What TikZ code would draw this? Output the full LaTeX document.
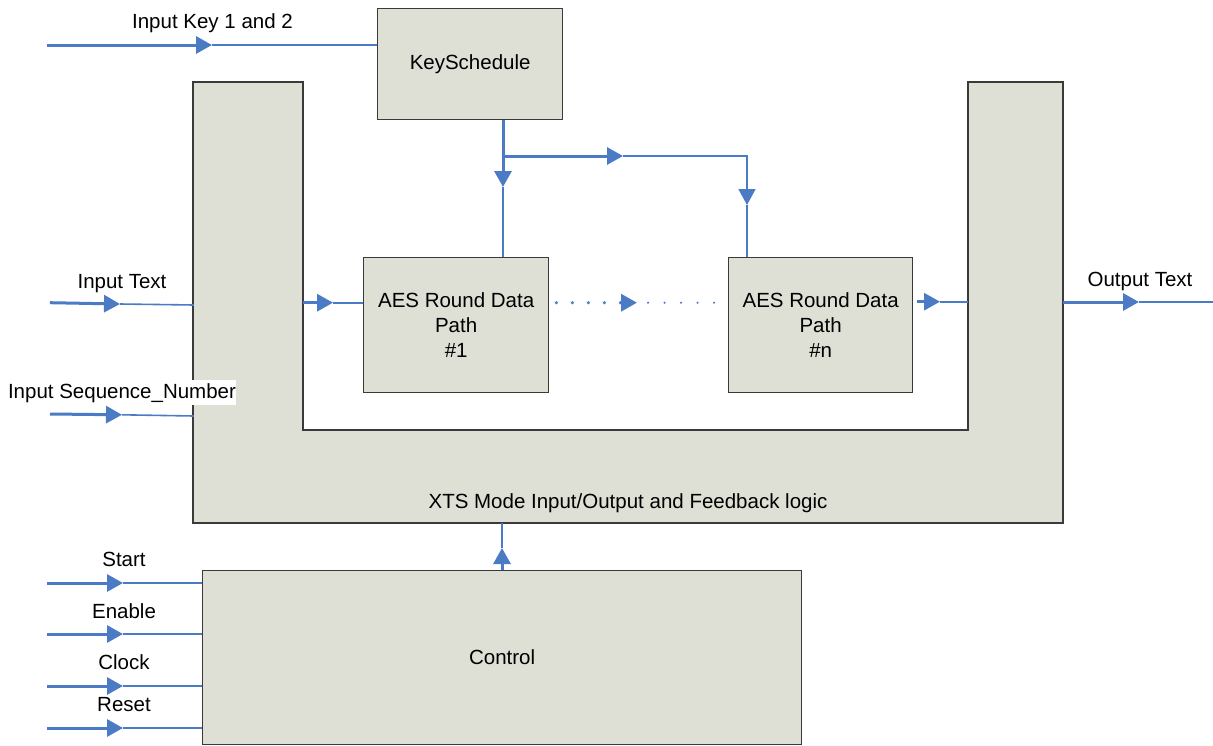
\documentclass[tikz,border=0pt]{standalone}
\usepackage{fontspec}
\setmainfont{Liberation Sans}
\usetikzlibrary{arrows.meta,calc}
\definecolor{wire}{HTML}{4A7BC4}
\definecolor{blockfill}{HTML}{DEDFD5}
\definecolor{blockline}{HTML}{3A3A3A}

\begin{document}
\begin{tikzpicture}[x=1pt,y=-1pt,
  every node/.style={font=\fontsize{20.5}{25}\selectfont, text=black},
  block/.style={draw=blockline, line width=1.3pt, fill=blockfill, inner sep=0pt,
                anchor=north west, align=center},
  wthick/.style={draw=wire, line width=3pt},
  wthin/.style={draw=wire, line width=1.6pt},
  tip/.style={-{Triangle[length=16pt,width=17pt]}},
  lbl/.style={anchor=base, inner sep=1pt}]

\useasboundingbox (0,0) rectangle (1213,745);

% XTS input/output and feedback logic (U-shaped block)
\draw[draw=blockline, line width=1.3pt, fill=blockfill]
  (193,82) -- (303,82) -- (303,430) -- (968,430) -- (968,82)
  -- (1063,82) -- (1063,523) -- (193,523) -- cycle;
\node[lbl] (xts) at (628,508) {XTS Mode Input/Output and Feedback logic};

% blocks
\node[block, minimum width=185pt, minimum height=111pt] (ks) at (377,8) {KeySchedule};
\node[block, minimum width=185pt, minimum height=135pt] (aes1) at (363,257)
  {AES Round Data\\Path\\\#1};
\node[block, minimum width=184pt, minimum height=135pt] (aesn) at (728,257)
  {AES Round Data\\Path\\\#n};
\node[block, minimum width=599pt, minimum height=174pt] (ctl) at (202,570) {Control};

% points on the U-shaped block
\coordinate (uinl) at (303,302.7);
\coordinate (uinr) at (968,301.7);
\coordinate (uoutr) at (1063,302);
\coordinate (utext) at (194,305);
\coordinate (useq) at (194,416);
\coordinate (ubot) at (502,523);

% key input
\coordinate (kin) at (47,45);
\coordinate (ktip) at (212,45);
\draw[wthick, tip] (kin) -- (ktip);
\draw[wthin] (ktip) -- (ks.west |- ktip);
\node[lbl] (lkey) at (212.5,28) {Input Key 1 and 2};

% key schedule distribution
\coordinate (kout) at (ks.south -| 503,0);
\coordinate (ksplit) at (503,156);
\coordinate (ktip1) at (503,187);
\coordinate (btip) at (623,156);
\coordinate (bcorner) at (747,156);
\coordinate (ntip) at (747,205);
\draw[wthick] (kout) -- (ksplit);
\draw[wthick, tip] (ksplit) -- (ktip1);
\draw[wthin] (ktip1) -- (aes1.north -| ktip1);
\draw[wthick, tip] (ksplit) -- (btip);
\draw[wthin, tip] (btip) -- (bcorner) -- (ntip);
\draw[wthin] (ntip) -- (aesn.north -| ntip);

% data path
\coordinate (a1tip) at (333,302.7);
\draw[wthick, tip] (uinl) -- (a1tip);
\draw[wthin] (a1tip) -- (aes1.west |- a1tip);

\coordinate (dtip) at (637,302.7);
\draw[wire, line width=3.5pt, line cap=round, dash pattern=on 0pt off 16pt,
      dash phase=9pt, tip] (aes1.east |- dtip) -- (dtip);
\draw[wire, line width=2.4pt, line cap=round, dash pattern=on 0pt off 16.5pt,
      dash phase=5.5pt] (dtip) -- (aesn.west |- dtip);

\coordinate (antip) at (940,301.7);
\draw[wthick, tip] ($(aesn.east |- antip)+(4,0)$) -- (antip);
\draw[wthin] (antip) -- (uinr);

% output
\coordinate (otip) at (1139,302);
\coordinate (oend) at (1213,302);
\draw[wthick, tip] (uoutr) -- (otip);
\draw[wthin] (otip) -- (oend);
\node[lbl] (lout) at (1140,286) {Output Text};

% text input
\coordinate (tin) at (50,302.7);
\coordinate (ttip) at (120,304);
\draw[wthick, tip] (tin) -- (ttip);
\draw[wthin] (ttip) -- (utext);
\node[lbl] (ltext) at (122,288) {Input Text};

% sequence number input
\coordinate (sin) at (50,414);
\coordinate (stip) at (122,414.8);
\draw[wthick, tip] (sin) -- (stip);
\draw[wthin] (stip) -- (useq);
\node[lbl, fill=white, inner xsep=0pt, inner ysep=3pt] (lseq) at (122,398) {Input Sequence\_Number};

% control to feedback logic
\coordinate (cup) at (ctl.north -| ubot);
\coordinate (ctip) at (502,548);
\draw[wthick, tip] (cup) -- (ctip);
\draw[wthin] (ctip) -- (ubot);

% control inputs
\foreach \name/\yy/\base in {Start/583/566, Enable/634/618, Clock/686/669, Reset/728/711}{
  \coordinate (in\name) at (47,\yy);
  \coordinate (tip\name) at (123,\yy);
  \draw[wthick, tip] (in\name) -- (tip\name);
  \draw[wthin] (tip\name) -- (ctl.west |- tip\name);
  \node[lbl] (l\name) at (124,\base) {\name};
}
\end{tikzpicture}
\end{document}
